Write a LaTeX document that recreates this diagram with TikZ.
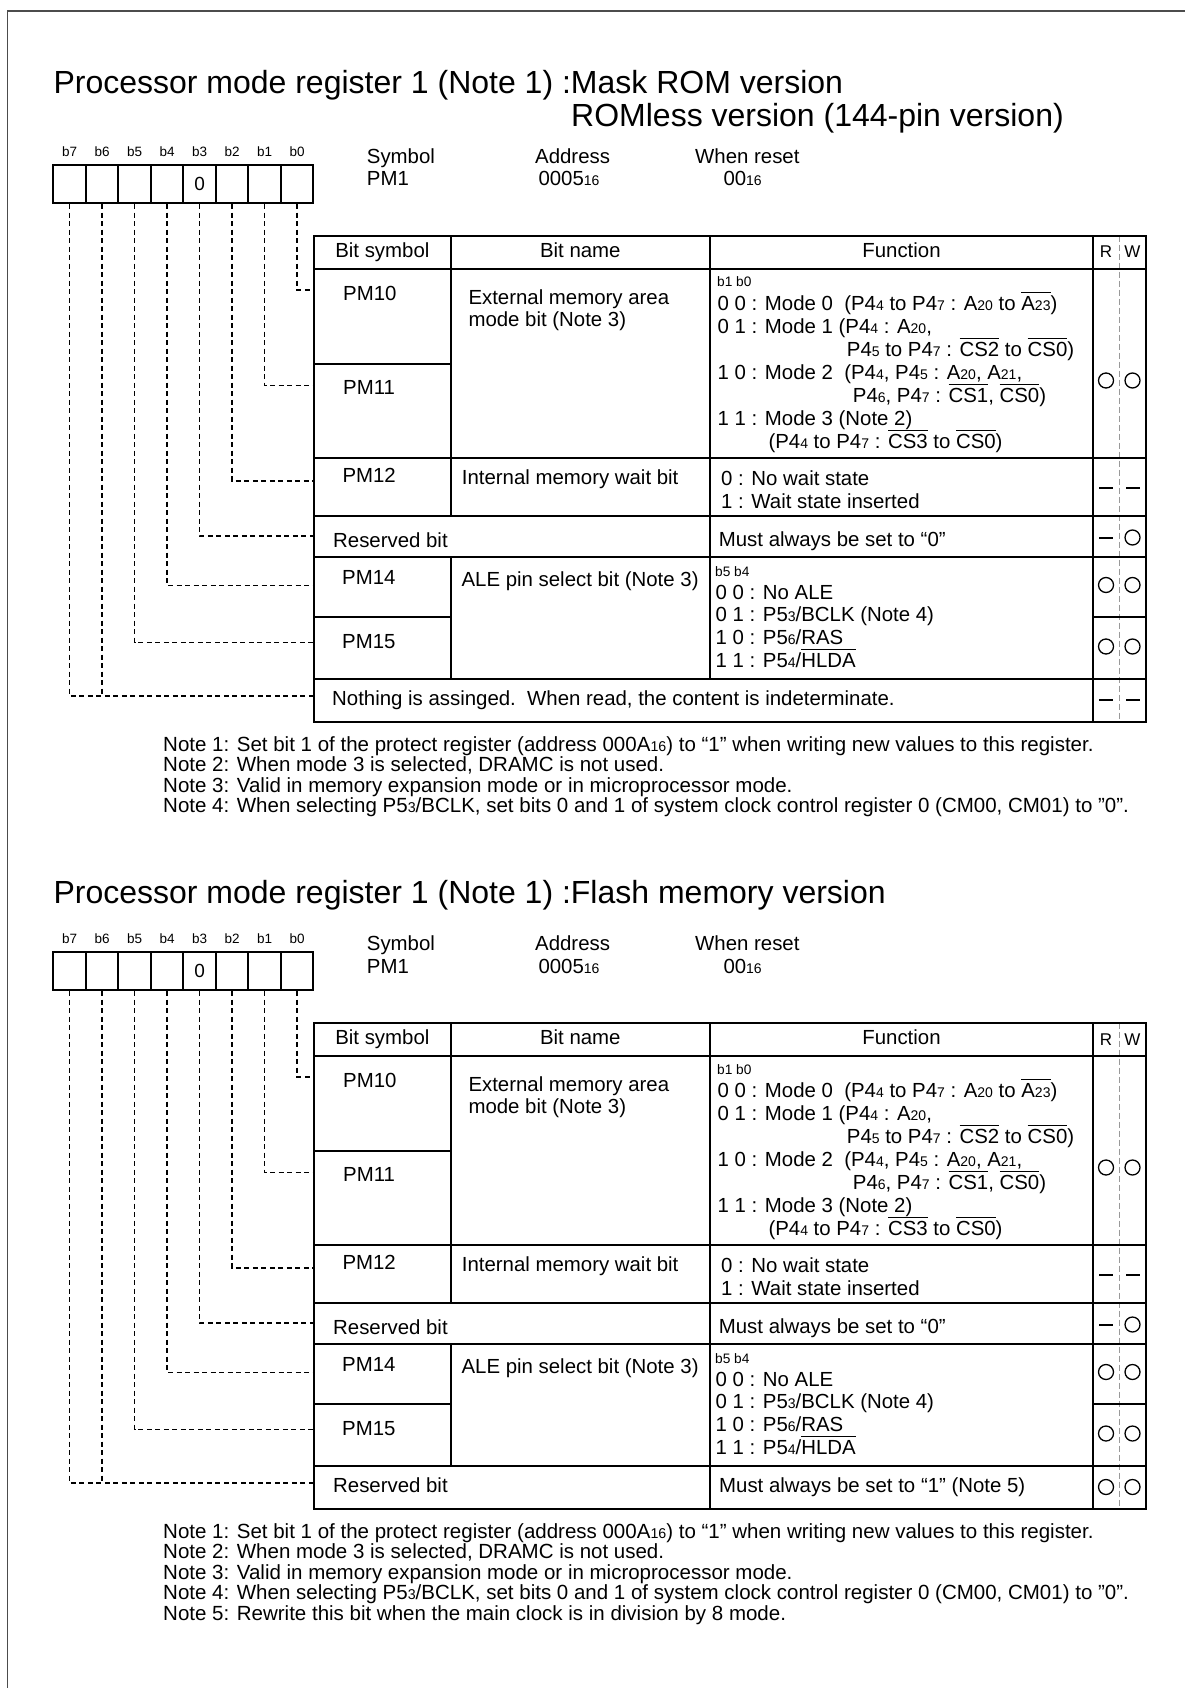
\documentclass[tikz,border=0pt]{standalone}
\usepackage{fontspec}
\setmainfont{Liberation Sans}
\newcommand\sbs[1]{{\fontsize{14}{14}\selectfont #1}}
\newcommand\nsb[1]{{\fontsize{14.2}{14}\selectfont #1}}
\newcommand\ovl[1]{\setbox0\hbox{#1}\rlap{\vrule width\wd0 height 0.9em depth -0.85em}\box0\relax}
\tikzset{
 txt/.style={inner sep=0pt, anchor=base west, font=\fontsize{20.4}{24}\selectfont},
 ctxt/.style={txt, anchor=base},
 smalltxt/.style={inner sep=0pt, anchor=base west, font=\fontsize{13.7}{16}\selectfont},
 blab/.style={inner sep=0pt, anchor=base, font=\fontsize{13.5}{16}\selectfont},
 rwh/.style={inner sep=0pt, anchor=base, font=\fontsize{17}{20}\selectfont},
 ttl/.style={inner sep=0pt, anchor=base west, font=\fontsize{32}{36}\selectfont},
 notetxt/.style={inner sep=0pt, anchor=base west, font=\fontsize{20.5}{22}\selectfont},
 regcell/.style={draw, line width=1.8pt, minimum width=32.5pt, minimum height=38.3pt, inner sep=0pt},
 tline/.style={line width=1.8pt, line cap=rect},
 leader/.style={line width=1.4pt, dash pattern=on 5pt off 3.5pt},
 rwdiv/.style={line width=0.9pt, draw=black!40, dash pattern=on 6pt off 3pt},
 rwo/.style={circle, draw, line width=1.3pt, minimum size=15pt, inner sep=0pt},
 rwbar/.style={fill=black, minimum width=14pt, minimum height=2pt, inner sep=0pt},
 framel/.style={line width=1.5pt, draw=black!70},
}
\newcommand\regtable[1]{%
 \foreach \i in {0,...,7}{%
   \node[regcell] (r\i#1) at ({69.55+32.5*(7-\i)},184.15) {};
   \node[blab] (bl\i#1) at ({69.55+32.5*(7-\i)},156.7) {b\i};
 }
 \node[ctxt, font=\fontsize{19}{22}\selectfont] (zero#1) at (199.55,190.7) {0};
 \node[txt] (sym#1) at (366.7,163.3) {Symbol};
 \node[txt] (pm1#1) at (366.7,186) {PM1};
 \node[txt] (adr#1) at (535,163.3) {Address};
 \node[txt] (adrv#1) at (538.3,186) {0005\sbs{16}};
 \node[txt] (rst#1) at (695,163.3) {When reset};
 \node[txt] (rstv#1) at (723.3,186) {00\sbs{16}};
 % table grid
 \draw[rwdiv] (1119,235.7) -- (1119,721.7);
 \draw[tline] (314,235.7) rectangle (1146,721.7);
 \draw[tline] (314,269) -- (1146,269);
 \draw[tline] (314,458) -- (1146,458);
 \draw[tline] (314,516) -- (1146,516);
 \draw[tline] (314,556.7) -- (1146,556.7);
 \draw[tline] (314,678.7) -- (1146,678.7);
 \draw[tline] (314,363.7) -- (450.7,363.7);
 \draw[tline] (314,617.3) -- (450.7,617.3);
 \draw[tline] (1093,617.3) -- (1146,617.3);
 \draw[tline] (450.7,235.7) -- (450.7,516);
 \draw[tline] (450.7,556.7) -- (450.7,678.7);
 \draw[tline] (1093,235.7) -- (1093,721.7);
 % header
 \node[ctxt] (hbs#1) at (382.35,257.3) {Bit symbol};
 \node[ctxt] (hbn#1) at (580.35,257.3) {Bit name};
 \node[ctxt] (hfn#1) at (901.5,257.3) {Function};
 \node[rwh] (hr#1) at (1106,258) {R};
 \node[rwh] (hw#1) at (1132.5,258) {W};
 % PM10 / PM11
 \node[txt] (pm10#1) at (343,300.7) {PM10};
 \node[txt] (pm11#1) at (343,394) {PM11};
 \node[txt] (ext1#1) at (468.3,304) {External memory area};
 \node[txt] (ext2#1) at (468.3,326.7) {mode bit (Note 3)};
 \node[smalltxt] (b10#1) at (717,287) {b1 b0};
 \node[txt] (f1#1) at (717.5,310) {0 0 : Mode 0~ (P4\sbs{4} to P4\sbs{7} : A\sbs{20} to \ovl{A\sbs{23}})};
 \node[txt] (f2#1) at (717.5,333.3) {0 1 : Mode 1 (P4\sbs{4} : A\sbs{20},};
 \node[txt] (f3#1) at (846.7,356) {P4\sbs{5} to P4\sbs{7} : \ovl{CS2} to \ovl{CS0})};
 \node[txt] (f4#1) at (717.5,379) {1 0 : Mode 2~ (P4\sbs{4}, P4\sbs{5} : A\sbs{20}, A\sbs{21},};
 \node[txt] (f5#1) at (852.7,402) {P4\sbs{6}, P4\sbs{7} : \ovl{CS1}, \ovl{CS0})};
 \node[txt] (f6#1) at (717.5,425) {1 1 : Mode 3 (Note 2)};
 \node[txt] (f7#1) at (768.3,448) {(P4\sbs{4} to P4\sbs{7} : \ovl{CS3} to \ovl{CS0})};
 \node[rwo] (o1r#1) at (1106,380.5) {};
 \node[rwo] (o1w#1) at (1132.5,380.5) {};
 % PM12
 \node[txt] (pm12#1) at (342.3,482.5) {PM12};
 \node[txt] (imw#1) at (461.7,484) {Internal memory wait bit};
 \node[txt] (w0#1) at (721,485) {0 : No wait state};
 \node[txt] (w1#1) at (721,508.3) {1 : Wait state inserted};
 \node[rwbar] (d12r#1) at (1106,487.7) {};
 \node[rwbar] (d12w#1) at (1132.5,487.7) {};
 % reserved b3
 \node[txt] (res3#1) at (333,547.3) {Reserved bit};
 \node[txt] (mas0#1) at (718.7,546.7) {Must always be set to “0”};
 \node[rwbar] (d13r#1) at (1106,537.5) {};
 \node[rwo] (o13w#1) at (1132.5,537.5) {};
 % PM14 / PM15
 \node[txt] (pm14#1) at (342,584.5) {PM14};
 \node[txt] (pm15#1) at (342,648) {PM15};
 \node[txt] (ale#1) at (461.4,586) {ALE pin select bit (Note 3)};
 \node[smalltxt] (b54#1) at (715,576) {b5 b4};
 \node[txt] (a0#1) at (715.5,599.3) {0 0 : No ALE};
 \node[txt] (a1#1) at (715.5,621.7) {0 1 : P5\sbs{3}/BCLK (Note 4)};
 \node[txt] (a2#1) at (715.5,644.3) {1 0 : P5\sbs{6}/RAS};
 \node[txt] (a3#1) at (715.5,667.7) {1 1 : P5\sbs{4}/\ovl{HLDA}};
 \node[rwo] (o14r#1) at (1106,585) {};
 \node[rwo] (o14w#1) at (1132.5,585) {};
 \node[rwo] (o15r#1) at (1106,646.5) {};
 \node[rwo] (o15w#1) at (1132.5,646.5) {};
 % leaders
 \coordinate (e0#1) at (314,290);
 \coordinate (e1#1) at (314,385.7);
 \coordinate (e2#1) at (314,481);
 \coordinate (e3#1) at (314,536);
 \coordinate (e4#1) at (314,585.7);
 \coordinate (e5#1) at (314,642.3);
 \coordinate (e67#1) at (314,696);
 \draw[leader] (r0#1.south) |- (e0#1);
 \draw[leader] (r1#1.south) |- (e1#1);
 \draw[leader] (r2#1.south) |- (e2#1);
 \draw[leader] (r3#1.south) |- (e3#1);
 \draw[leader] (r4#1.south) |- (e4#1);
 \draw[leader] (r5#1.south) |- (e5#1);
 \draw[leader] (r7#1.south) |- (e67#1);
 \draw[leader] (r6#1.south) -- (r6#1.south |- e67#1);
}
\begin{document}
\begin{tikzpicture}[x=1pt,y=-1pt]
\useasboundingbox (0,0) rectangle (1185,1688);
\draw[framel] (7.5,1688) -- (7.5,11) -- (1185,11);
% ---------- section 1
\node[ttl] (title1a) at (53.3,93.3) {Processor mode register 1 (Note 1) :Mask ROM version};
\node[ttl] (title1b) at (571,126.7) {ROMless version (144-pin version)};
\regtable{A}
\draw[tline] (710,235.7) -- (710,678.7);
\node[txt] (nothingA) at (332,705) {Nothing is assinged.\ \ When read, the content is indeterminate.};
\node[rwbar] (dlrA) at (1106,700) {};
\node[rwbar] (dlwA) at (1132.5,700) {};
\node[notetxt] (n1A) at (163,751) {Note 1: Set bit 1 of the protect register (address 000A\nsb{16}) to “1” when writing new values to this register.};
\node[notetxt] (n2A) at (163,771.5) {Note 2: When mode 3 is selected, DRAMC is not used.};
\node[notetxt] (n3A) at (163,792) {Note 3: Valid in memory expansion mode or in microprocessor mode.};
\node[notetxt] (n4A) at (163,812.5) {Note 4: When selecting P5\nsb{3}/BCLK, set bits 0 and 1 of system clock control register 0 (CM00, CM01) to "0".};
% ---------- section 2
\begin{scope}[yshift=-787pt]
\node[ttl] (title2) at (53.3,116.3) {Processor mode register 1 (Note 1) :Flash memory version};
\regtable{B}
\draw[tline] (710,235.7) -- (710,721.7);
\node[txt] (res7B) at (333,705) {Reserved bit};
\node[txt] (mas1B) at (719,705) {Must always be set to “1” (Note 5)};
\node[rwo] (olrB) at (1106,700) {};
\node[rwo] (olwB) at (1132.5,700) {};
\node[notetxt] (n1B) at (163,751) {Note 1: Set bit 1 of the protect register (address 000A\nsb{16}) to “1” when writing new values to this register.};
\node[notetxt] (n2B) at (163,771.5) {Note 2: When mode 3 is selected, DRAMC is not used.};
\node[notetxt] (n3B) at (163,792) {Note 3: Valid in memory expansion mode or in microprocessor mode.};
\node[notetxt] (n4B) at (163,812.5) {Note 4: When selecting P5\nsb{3}/BCLK, set bits 0 and 1 of system clock control register 0 (CM00, CM01) to "0".};
\node[notetxt] (n5B) at (163,833) {Note 5: Rewrite this bit when the main clock is in division by 8 mode.};
\end{scope}
\end{tikzpicture}
\end{document}
